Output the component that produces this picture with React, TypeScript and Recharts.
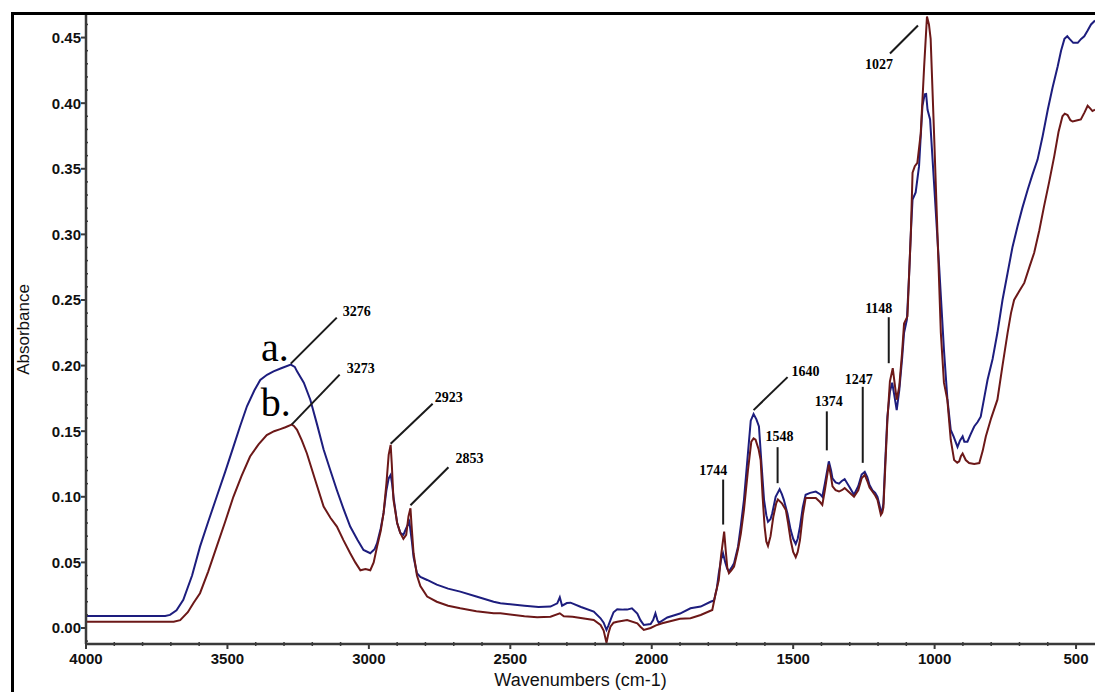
import { LineChart, Line, XAxis, YAxis, ReferenceDot } from "recharts"

// FTIR absorbance spectra, sample a (blue) and sample b (dark red)
const wavenumbersA = [
  4000, 3720, 3703, 3680, 3656, 3625, 3597, 3568, 3538, 3508, 3479, 3455, 3431, 3405, 3384, 3360, 3337, 3310,
  3276, 3262, 3254, 3230, 3207, 3183, 3160, 3136, 3113, 3090, 3066, 3040, 3019, 2995, 2980, 2971, 2958, 2948,
  2938, 2930, 2923, 2918, 2913, 2900, 2889, 2878, 2868, 2857, 2848, 2842, 2830, 2818, 2794, 2760, 2720, 2677,
  2620, 2559, 2535, 2450, 2400, 2358, 2334, 2325, 2317, 2300, 2287, 2250, 2205, 2181, 2170, 2160, 2153, 2146,
  2135, 2122, 2100, 2087, 2070, 2051, 2040, 2028, 2004, 1995, 1987, 1980, 1975, 1945, 1900, 1863, 1827, 1792,
  1780, 1770, 1763, 1755, 1748, 1740, 1733, 1727, 1718, 1709, 1695, 1685, 1674, 1662, 1650, 1640, 1630, 1621,
  1612, 1603, 1595, 1589, 1580, 1574, 1562, 1548, 1540, 1533, 1520, 1509, 1500, 1491, 1484, 1476, 1466, 1456,
  1440, 1420, 1405, 1397, 1388, 1374, 1366, 1361, 1350, 1338, 1328, 1318, 1300, 1285, 1270, 1258, 1247, 1238,
  1230, 1220, 1210, 1202, 1195, 1190, 1185, 1181, 1175, 1167, 1158, 1150, 1143, 1134, 1125, 1115, 1108, 1098,
  1090, 1084, 1078, 1067, 1055, 1043, 1035, 1030, 1025, 1016, 1002, 984, 967, 955, 943, 933, 919, 910, 901, 895,
  884, 872, 860, 848, 837, 825, 813, 795, 778, 760, 742, 725, 707, 690, 671, 655, 636, 618, 600, 583, 565, 553,
  541, 531, 523, 510, 494, 482, 471, 460, 447, 433,
]
const absorbanceA = [
  0.0092, 0.0092, 0.01, 0.0135, 0.0214, 0.04, 0.062, 0.081, 0.1, 0.119, 0.138, 0.154, 0.169, 0.181, 0.189, 0.193,
  0.1956, 0.198, 0.2007, 0.199, 0.1956, 0.187, 0.174, 0.155, 0.136, 0.12, 0.105, 0.091, 0.0773, 0.067, 0.0595,
  0.057, 0.06, 0.0646, 0.076, 0.0877, 0.105, 0.114, 0.1167, 0.11, 0.1, 0.08, 0.0725, 0.071, 0.076, 0.081, 0.066,
  0.054, 0.0417, 0.039, 0.0366, 0.033, 0.03, 0.0277, 0.024, 0.02, 0.0188, 0.017, 0.016, 0.0163, 0.0188, 0.0234,
  0.017, 0.019, 0.0193, 0.016, 0.0125, 0.0074, 0.004, -0.0015, 0.002, 0.006, 0.012, 0.0143, 0.014, 0.014, 0.015,
  0.011, 0.006, 0.0023, 0.003, 0.006, 0.0112, 0.006, 0.004, 0.008, 0.011, 0.015, 0.0163, 0.02, 0.021, 0.03,
  0.0417, 0.052, 0.057, 0.05, 0.045, 0.043, 0.046, 0.0494, 0.062, 0.078, 0.0977, 0.128, 0.158, 0.163, 0.159,
  0.1536, 0.125, 0.0977, 0.086, 0.081, 0.083, 0.0875, 0.1, 0.1058, 0.102, 0.0977, 0.087, 0.0748, 0.068, 0.064,
  0.068, 0.0773, 0.092, 0.1015, 0.103, 0.104, 0.102, 0.1, 0.11, 0.127, 0.12, 0.114, 0.111, 0.11, 0.112, 0.1135,
  0.107, 0.1015, 0.108, 0.117, 0.119, 0.115, 0.109, 0.105, 0.103, 0.1, 0.094, 0.0887, 0.09, 0.095, 0.125, 0.161,
  0.18, 0.187, 0.178, 0.166, 0.181, 0.205, 0.225, 0.235, 0.27, 0.301, 0.3266, 0.332, 0.352, 0.398, 0.4067, 0.407,
  0.395, 0.3876, 0.339, 0.2757, 0.212, 0.175, 0.151, 0.146, 0.138, 0.143, 0.146, 0.142, 0.142, 0.148, 0.1536,
  0.157, 0.161, 0.175, 0.189, 0.205, 0.225, 0.25, 0.2706, 0.29, 0.306, 0.32, 0.334, 0.345, 0.357, 0.375, 0.395,
  0.412, 0.428, 0.44, 0.449, 0.451, 0.449, 0.446, 0.446, 0.449, 0.451, 0.455, 0.46, 0.463,
]

const wavenumbersB = [
  4000, 3690, 3667, 3640, 3620, 3597, 3568, 3538, 3508, 3479, 3450, 3420, 3390, 3361, 3335, 3313, 3295, 3273,
  3265, 3254, 3237, 3219, 3190, 3160, 3136, 3113, 3090, 3066, 3048, 3030, 3012, 2995, 2983, 2971, 2958, 2948,
  2938, 2930, 2923, 2919, 2913, 2900, 2889, 2878, 2868, 2860, 2853, 2849, 2842, 2830, 2818, 2794, 2760, 2720,
  2677, 2620, 2559, 2535, 2450, 2405, 2358, 2325, 2311, 2280, 2205, 2181, 2170, 2160, 2153, 2146, 2135, 2122,
  2087, 2051, 2040, 2028, 2004, 1985, 1963, 1900, 1863, 1827, 1786, 1774, 1763, 1755, 1744, 1738, 1733, 1727,
  1718, 1709, 1695, 1685, 1674, 1660, 1648, 1640, 1633, 1622, 1615, 1608, 1601, 1595, 1589, 1580, 1570, 1560,
  1554, 1540, 1526, 1518, 1509, 1500, 1491, 1484, 1476, 1466, 1456, 1440, 1420, 1405, 1397, 1388, 1374, 1366,
  1361, 1350, 1338, 1328, 1318, 1300, 1285, 1270, 1258, 1247, 1238, 1230, 1220, 1210, 1202, 1195, 1190, 1185,
  1181, 1175, 1167, 1158, 1148, 1141, 1134, 1125, 1115, 1108, 1096, 1090, 1084, 1078, 1070, 1061, 1049, 1037,
  1027, 1020, 1014, 1002, 990, 978, 967, 955, 943, 931, 920, 913, 907, 901, 890, 878, 860, 842, 830, 819, 800,
  778, 760, 742, 730, 719, 700, 683, 665, 648, 630, 613, 595, 577, 562, 548, 540, 530, 520, 512, 495, 483, 470,
  459, 450, 442, 433,
]
const absorbanceB = [
  0.0048, 0.0048, 0.006, 0.012, 0.019, 0.0265, 0.043, 0.062, 0.081, 0.1, 0.116, 0.1307, 0.14, 0.147, 0.15,
  0.1516, 0.153, 0.155, 0.154, 0.151, 0.143, 0.133, 0.113, 0.0926, 0.084, 0.0773, 0.067, 0.057, 0.05, 0.044,
  0.045, 0.044, 0.05, 0.062, 0.074, 0.0877, 0.11, 0.132, 0.1396, 0.125, 0.0977, 0.08, 0.0725, 0.068, 0.071,
  0.085, 0.0913, 0.078, 0.057, 0.04, 0.032, 0.024, 0.02, 0.017, 0.015, 0.0128, 0.0112, 0.0112, 0.009, 0.0082,
  0.0086, 0.0112, 0.009, 0.0085, 0.0061, 0.0023, -0.002, -0.0112, -0.004, 0.001, 0.004, 0.0048, 0.0061, 0.0036,
  0.001, -0.0015, 0, 0.002, 0.0036, 0.007, 0.0074, 0.0099, 0.0137, 0.0265, 0.0366, 0.055, 0.0735, 0.058, 0.046,
  0.0417, 0.044, 0.0468, 0.06, 0.072, 0.09, 0.12, 0.142, 0.1445, 0.1435, 0.136, 0.128, 0.1, 0.0773, 0.066,
  0.0626, 0.07, 0.085, 0.095, 0.098, 0.095, 0.09, 0.08, 0.067, 0.058, 0.054, 0.058, 0.067, 0.086, 0.099, 0.099,
  0.099, 0.096, 0.0938, 0.105, 0.1244, 0.115, 0.108, 0.105, 0.104, 0.105, 0.1066, 0.103, 0.1, 0.105, 0.114,
  0.1167, 0.112, 0.107, 0.104, 0.101, 0.0977, 0.091, 0.0862, 0.088, 0.092, 0.12, 0.158, 0.188, 0.198, 0.186,
  0.174, 0.184, 0.21, 0.232, 0.2375, 0.27, 0.301, 0.347, 0.352, 0.3545, 0.377, 0.428, 0.466, 0.46, 0.449, 0.377,
  0.301, 0.225, 0.187, 0.174, 0.1435, 0.128, 0.126, 0.127, 0.131, 0.133, 0.128, 0.1257, 0.125, 0.1257, 0.135,
  0.146, 0.16, 0.174, 0.2, 0.225, 0.24, 0.25, 0.257, 0.263, 0.275, 0.286, 0.303, 0.3215, 0.34, 0.3596, 0.378,
  0.39, 0.392, 0.391, 0.387, 0.386, 0.387, 0.3876, 0.393, 0.398, 0.396, 0.394, 0.395,
]

const xMajorTicks = [4000, 3500, 3000, 2500, 2000, 1500, 1000, 500]
const yMajorTicks = [0, 0.05, 0.1, 0.15, 0.2, 0.25, 0.3, 0.35, 0.4, 0.45]

// minor ticks every 100 cm-1 and every 0.01 absorbance
const xTicks = Array.from({ length: 36 }, (_, i) => 500 + i * 100)
const yTicks = Array.from({ length: 48 }, (_, i) => (i - 1) / 100)

// peak call-outs: which curve, the wavenumber, and where the leader and text sit relative to the peak (px)
const peakNotes = [
  { text: "3276", curve: "a", wn: 3276, line: [0, -1, 46, -47], at: [66, -54] },
  { text: "a.", curve: "a", wn: 3276, at: [-16, -18], big: true },
  { text: "3273", curve: "b", wn: 3273, line: [0, 0, 48, -50], at: [69, -57] },
  { text: "b.", curve: "b", wn: 3273, at: [-16, -23], big: true },
  { text: "2923", curve: "b", wn: 2923, line: [0, -1, 42, -41], at: [58, -48] },
  { text: "2853", curve: "b", wn: 2853, line: [0, -3, 38, -41], at: [59, -50] },
  { text: "1744", curve: "b", wn: 1744, line: [-1, -7, -1, -52], at: [-11, -61] },
  { text: "1640", curve: "a", wn: 1640, line: [0, -4, 34, -37], at: [52, -43] },
  { text: "1548", curve: "a", wn: 1548, line: [-2, -6, -2, -42], at: [0, -53] },
  { text: "1374", curve: "a", wn: 1374, line: [-2, -11, -2, -50], at: [0, -60] },
  { text: "1247", curve: "a", wn: 1247, line: [-2, -9, -2, -85], at: [-6, -93] },
  { text: "1148", curve: "b", wn: 1148, line: [-4, -5, -4, -51], at: [-14, -60] },
  { text: "1027", curve: "b", wn: 1027, line: [-9, 9, -37, 37], at: [-48, 48] },
]

const toPoints = (wns: number[], abs: number[]) => wns.map((wn, i) => ({ wn, abs: abs[i] }))
const seriesA = toPoints(wavenumbersA, absorbanceA)
const seriesB = toPoints(wavenumbersB, absorbanceB)

const peakValue = (curve: string, wn: number) =>
  (curve === "a" ? seriesA : seriesB).find((p) => p.wn === wn)!.abs

const sans = "'Liberation Sans', Arial, sans-serif"
const serif = "'Liberation Serif', 'Times New Roman', serif"
const axisColor = "#3a3a3a"

function WavenumberTick({ x, y, payload }: any) {
  const v = payload.value
  if (!xMajorTicks.includes(v)) {
    return <line x1={x} x2={x} y1={y - 2} y2={y + 2} stroke={axisColor} strokeWidth={1.5} />
  }
  return (
    <g>
      <line x1={x} x2={x} y1={y} y2={y + 5} stroke={axisColor} strokeWidth={2} />
      <text x={x} y={y + 20} textAnchor="middle" fontFamily={sans} fontSize={15} fontWeight="bold" fill="#111">
        {v}
      </text>
    </g>
  )
}

function AbsorbanceTick({ x, y, payload }: any) {
  const v = payload.value
  if (!yMajorTicks.some((t) => Math.abs(t - v) < 1e-6)) {
    return <line x1={x - 1} x2={x + 2} y1={y} y2={y} stroke={axisColor} strokeWidth={1.5} />
  }
  return (
    <g>
      <line x1={x - 5} x2={x} y1={y} y2={y} stroke={axisColor} strokeWidth={2} />
      <text x={x - 5} y={y} dy="0.36em" textAnchor="end" fontFamily={sans} fontSize={15} fontWeight="bold" fill="#111">
        {v.toFixed(2)}
      </text>
    </g>
  )
}

function XTitle({ viewBox }: any) {
  return (
    <text
      x={viewBox.x + viewBox.width / 2 - 10}
      y={viewBox.y + viewBox.height - 6}
      textAnchor="middle"
      fontFamily={sans}
      fontSize={18}
      fill="#111"
    >
      Wavenumbers (cm-1)
    </text>
  )
}

function YTitle({ viewBox }: any) {
  const cx = viewBox.x + 23
  const cy = viewBox.y + viewBox.height / 2
  return (
    <text
      x={cx}
      y={cy}
      dy="0.35em"
      transform={`rotate(-90, ${cx}, ${cy})`}
      textAnchor="middle"
      fontFamily={sans}
      fontSize={17}
      fill="#111"
    >
      Absorbance
    </text>
  )
}

function PeakTag({ cx, cy, note }: any) {
  const [tx, ty] = note.at
  return (
    <g>
      {note.line && (
        <line
          x1={cx + note.line[0]}
          y1={cy + note.line[1]}
          x2={cx + note.line[2]}
          y2={cy + note.line[3]}
          stroke="#1a1a1a"
          strokeWidth={2}
        />
      )}
      <text
        x={cx + tx}
        y={cy + ty}
        dy="0.35em"
        textAnchor="middle"
        fontFamily={serif}
        fontSize={note.big ? 40 : 14}
        fontWeight={note.big ? "normal" : "bold"}
        fill="#000"
      >
        {note.text}
      </text>
    </g>
  )
}

export default function App() {
  return (
    <div style={{ position: "absolute", left: 0, top: 0, width: 1095, height: 692, background: "#fff" }}>
      <div
        style={{
          position: "absolute",
          left: 11,
          top: 12,
          width: 1084,
          height: 680,
          borderLeft: "3px solid #000",
          borderTop: "3px solid #000",
          boxSizing: "border-box",
        }}
      />
      <div style={{ position: "absolute", left: 0, top: 0 }}>
        <LineChart width={1095} height={692} margin={{ top: 15, right: 0, bottom: 0, left: 0 }}>
          <XAxis
            type="number"
            dataKey="wn"
            domain={[433, 4000]}
            reversed
            allowDataOverflow
            ticks={xTicks}
            interval={0}
            tick={<WavenumberTick />}
            tickLine={false}
            tickSize={0}
            tickMargin={0}
            height={48}
            axisLine={{ stroke: axisColor, strokeWidth: 2.5 }}
            label={<XTitle />}
          />
          <YAxis
            type="number"
            domain={[-0.0122, 0.4672]}
            allowDataOverflow
            ticks={yTicks}
            interval={0}
            tick={<AbsorbanceTick />}
            tickLine={false}
            tickSize={0}
            tickMargin={0}
            width={86}
            axisLine={{ stroke: axisColor, strokeWidth: 2.5 }}
            label={<YTitle />}
          />
          <Line
            data={seriesA}
            dataKey="abs"
            type="linear"
            stroke="#1d1d7e"
            strokeWidth={2}
            dot={false}
            activeDot={false}
            isAnimationActive={false}
          />
          <Line
            data={seriesB}
            dataKey="abs"
            type="linear"
            stroke="#6c1818"
            strokeWidth={2}
            dot={false}
            activeDot={false}
            isAnimationActive={false}
          />
          {peakNotes.map((n, i) => (
            <ReferenceDot
              key={i}
              x={n.wn}
              y={peakValue(n.curve, n.wn)}
              r={0}
              ifOverflow="visible"
              shape={(p: any) => <PeakTag cx={p.cx} cy={p.cy} note={n} />}
            />
          ))}
        </LineChart>
      </div>
    </div>
  )
}
